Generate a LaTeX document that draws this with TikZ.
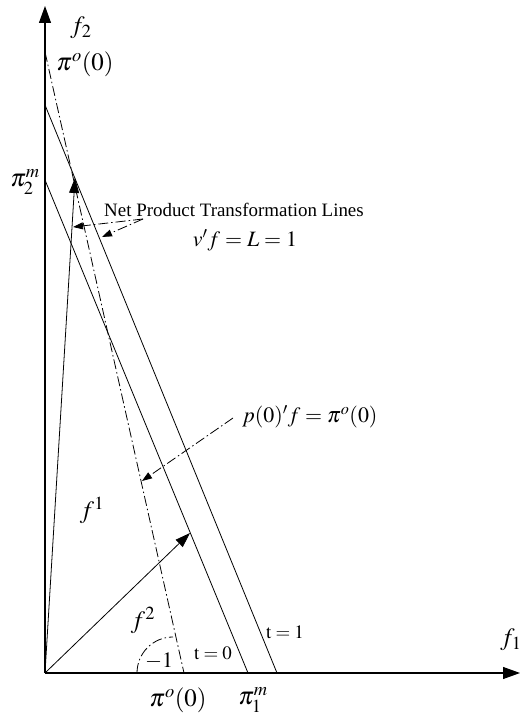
\documentclass[tikz,border=0pt]{standalone}
\usepackage{mathptmx}
\usepackage[no-math]{fontspec}
\setmainfont{Liberation Serif}
\usetikzlibrary{arrows.meta,calc}

\begin{document}
\begin{tikzpicture}[x=1bp,y=1bp,axis/.style={-{Triangle[length=17bp,width=12bp]},line width=1.1bp},vec/.style={-{Triangle[length=15bp,width=10bp]},line width=.8bp},tline/.style={line width=.8bp},dd/.style={line width=.8bp,dash pattern=on 10bp off 3bp on 1.5bp off 3bp},ddarr/.style={dd,-{Triangle[length=10bp,width=7bp]}},lbl/.style={font=\fontsize{25}{27}\selectfont,inner sep=1bp},eq/.style={font=\fontsize{22}{24}\selectfont,inner sep=1bp},txt/.style={font=\fontsize{19}{22}\selectfont,inner sep=1bp}]
\useasboundingbox (-45,-42) rectangle (475,673);
\coordinate (o) at (0,0);\coordinate (xend) at (475,0);\coordinate (yend) at (0,667);
\coordinate (ua) at (0,568);\coordinate (ub) at (232,0);
\coordinate (ta) at (0,493);\coordinate (tb) at (203,0);
\coordinate (pa) at (0,621);\coordinate (pb) at (139,0);
\coordinate (fonetip) at (30,495);\coordinate (ftwotip) at (145,140);
\coordinate (netsrc) at (98,454);\coordinate (neta) at (28,446);\coordinate (netb) at (57,436);
\coordinate (psrc) at (188,255);\coordinate (ptip) at (97,192);
\draw[axis](o)--(xend);\draw[axis](o)--(yend);
\draw[tline](ua)--(ub);\draw[tline](ta)--(tb);\draw[dd](pa)--(pb);
\draw[vec](o)--(fonetip);\draw[vec](o)--(ftwotip);
\draw[ddarr](netsrc)--(neta);\draw[ddarr](netsrc)--(netb);\draw[ddarr](psrc)--(ptip);
\draw[dd](92,0) arc[start angle=180,end angle=90,radius=36];
\node[lbl] (ftwo) at (36,645) {$f_2$};
\node[lbl] (fone) at (466,33) {$f_1$};
\node[lbl] (pitop) at (40,609) {$\pi^o(0)$};
\node[lbl] (pibot) at (133,-27) {$\pi^o(0)$};
\node[lbl] (pitwo) at (-20,491) {$\pi_2^m$};
\node[lbl] (pione) at (208,-27) {$\pi_1^m$};
\node[txt,anchor=west] (net) at (58,463) {Net Product Transformation Lines};
\node[eq] (vf) at (200,433) {$v'f=L=1$};
\node[eq,anchor=west] (pf) at (196,256) {$p(0)'f=\pi^o(0)$};
\node[lbl] (fonelbl) at (47,163) {$f^1$};
\node[lbl] (ftwolbl) at (98,53) {$f^2$};
\node[eq] (minus) at (114,12) {$-1$};
\node[txt] (tzero) at (168,20) {$\mathrm{t}=0$};
\node[txt] (tone) at (240,41) {$\mathrm{t}=1$};
\end{tikzpicture}
\end{document}
